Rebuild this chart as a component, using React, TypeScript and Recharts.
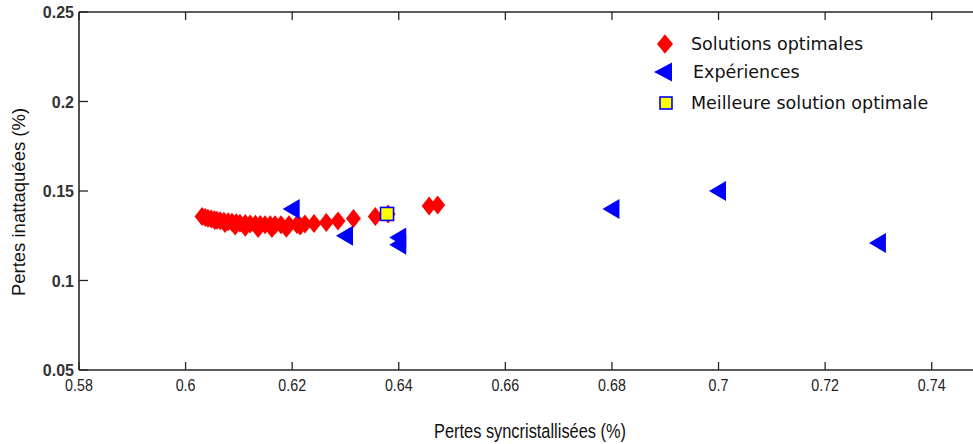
import React from 'react';
import { ScatterChart, Scatter, XAxis, YAxis, Legend } from 'recharts';

// Pareto front (optimal solutions)
const optimalX = [
  0.6031, 0.6037, 0.6042, 0.6048, 0.6054, 0.6059, 0.6065, 0.6072, 0.6080, 0.6087,
  0.6095, 0.6102, 0.6112, 0.6121, 0.6131, 0.6140, 0.6149, 0.6159, 0.6168, 0.6179,
  0.6194, 0.6209, 0.6224, 0.6241, 0.6264, 0.6286, 0.6315,
  0.6055, 0.6074, 0.6093, 0.6112, 0.6136, 0.6162, 0.6189, 0.6215,
  0.6356, 0.6380, 0.6457, 0.6473,
];
const optimalY = [
  0.1357, 0.1352, 0.1348, 0.1344, 0.1340, 0.1337, 0.1334, 0.1331, 0.1328, 0.1325,
  0.1322, 0.1320, 0.1318, 0.1316, 0.1314, 0.1313, 0.1312, 0.1311, 0.1311, 0.1311,
  0.1312, 0.1313, 0.1315, 0.1318, 0.1324, 0.1332, 0.1346,
  0.1335, 0.1318, 0.1305, 0.1297, 0.1291, 0.1290, 0.1292, 0.1305,
  0.1357, 0.1372, 0.1416, 0.1422,
];
// Experiments
const experienceX = [0.62, 0.63, 0.64, 0.64, 0.68, 0.70, 0.73];
const experienceY = [0.140, 0.125, 0.124, 0.120, 0.140, 0.150, 0.121];
// Best optimal solution
const bestX = [0.6378];
const bestY = [0.1372];

const xTicks = [0.58, 0.6, 0.62, 0.64, 0.66, 0.68, 0.7, 0.72, 0.74];
const xTickLabels = ['0.58', '0.6', '0.62', '0.64', '0.66', '0.68', '0.7', '0.72', '0.74'];
const yTicks = [0.05, 0.1, 0.15, 0.2, 0.25];
const yTickLabels = ['0.05', '0.1', '0.15', '0.2', '0.25'];
const seriesNames = ['Solutions optimales', 'Expériences', 'Meilleure solution optimale'];
const xTitle = 'Pertes syncristallisées (%)';
const yTitle = 'Pertes inattaquées (%)';

const optimalData = optimalX.map((x, i) => ({ x, y: optimalY[i] }));
const experienceData = experienceX.map((x, i) => ({ x, y: experienceY[i] }));
const bestData = bestX.map((x, i) => ({ x, y: bestY[i] }));

const RED = '#ff0000';
const BLUE = '#0000ff';
const YELLOW = '#ffff00';
const AXIS = '#262626';

const diamondPath = (cx: number, cy: number, hw: number, hh: number) =>
  `M${cx},${cy - hh} L${cx + hw},${cy} L${cx},${cy + hh} L${cx - hw},${cy} Z`;
const trianglePath = (cx: number, cy: number, l: number, r: number, hh: number) =>
  `M${cx - l},${cy} L${cx + r},${cy - hh} L${cx + r},${cy + hh} Z`;

const DiamondShape = (p: any) => <path d={diamondPath(p.cx, p.cy, 7.5, 9.5)} fill={RED} />;
const TriangleShape = (p: any) => <path d={trianglePath(p.cx, p.cy, 9.5, 7.5, 10)} fill={BLUE} />;
const SquareShape = (p: any) => (
  <rect x={p.cx - 6.5} y={p.cy - 6.5} width={13} height={13} fill={YELLOW} stroke={BLUE} strokeWidth={1.6} />
);

const XTick = (p: any) => {
  const idx = xTicks.indexOf(p.payload.value);
  return (
    <g>
      <line x1={p.x} y1={p.y} x2={p.x} y2={p.y - 8} stroke={AXIS} strokeWidth={1.3} />
      <text
        transform={`translate(${p.x},${p.y + 21}) scale(0.84,1)`}
        x={0}
        y={0}
        textAnchor="middle"
        fontFamily="'Liberation Sans', Arial, sans-serif"
        fontSize={17}
        fill="#222"
      >
        {idx >= 0 ? xTickLabels[idx] : ''}
      </text>
    </g>
  );
};

const TopTick = (p: any) => (
  <line x1={p.x} y1={p.y} x2={p.x} y2={p.y + 8} stroke={AXIS} strokeWidth={1.3} />
);

const YTick = (p: any) => {
  const idx = yTicks.indexOf(p.payload.value);
  return (
    <g>
      <line x1={p.x} y1={p.y} x2={p.x + 9} y2={p.y} stroke={AXIS} strokeWidth={1.3} />
      <text
        x={p.x - 5}
        y={p.y + 6}
        textAnchor="end"
        fontFamily="'Liberation Sans', Arial, sans-serif"
        fontSize={16}
        fontWeight="bold"
        fill="#333"
      >
        {idx >= 0 ? yTickLabels[idx] : ''}
      </text>
    </g>
  );
};

const LegendContent = () => {
  const rows = [
    { top: 14, symbol: <path d={diamondPath(15, 12, 8, 9.7)} fill={RED} />, textLeft: 41 },
    { top: 42, symbol: <path d={trianglePath(19, 12, 15, 3, 9.5)} fill={BLUE} />, textLeft: 43 },
    {
      top: 73,
      symbol: <rect x={10} y={6} width={12} height={12} fill={YELLOW} stroke={BLUE} strokeWidth={1.6} />,
      textLeft: 41,
    },
  ];
  return (
    <div style={{ position: 'relative', width: 300, height: 100 }}>
      {rows.map((r, i) => (
        <div key={i} style={{ position: 'absolute', left: 0, top: r.top, height: 24, width: 300 }}>
          <svg width={30} height={24} style={{ position: 'absolute', left: 0, top: 0 }}>
            {r.symbol}
          </svg>
          <span
            style={{
              position: 'absolute',
              left: r.textLeft,
              top: 0,
              lineHeight: '24px',
              fontFamily: "'DejaVu Sans', Verdana, sans-serif",
              fontSize: 17.5,
              color: '#111',
              whiteSpace: 'nowrap',
            }}
          >
            {seriesNames[i]}
          </span>
        </div>
      ))}
    </div>
  );
};

export default function App() {
  return (
    <div style={{ position: 'absolute', left: 0, top: 0, width: 973, height: 444, overflow: 'hidden', background: '#fff' }}>
      <ScatterChart width={1000} height={444} margin={{ top: 11, right: 15, left: 78, bottom: 73 }}>
        <XAxis
          xAxisId="b"
          type="number"
          dataKey="x"
          domain={[0.58, 0.75]}
          ticks={xTicks}
          allowDataOverflow
          height={1}
          tickSize={0}
          tickMargin={0}
          tickLine={false}
          axisLine={{ stroke: AXIS, strokeWidth: 1.6 }}
          tick={<XTick />}
          interval={0}
          label={{
            content: (props: any) => {
              const vb = props.viewBox || {};
              const cx = vb.x + vb.width / 2 - 2;
              const cy = vb.y + 68;
              return (
                <text
                  transform={`translate(${cx},${cy}) scale(0.84,1)`}
                  x={0}
                  y={0}
                  textAnchor="middle"
                  fontFamily="'Liberation Sans', Arial, sans-serif"
                  fontSize={19.5}
                  fill="#111"
                >
                  {xTitle}
                </text>
              );
            },
          }}
        />
        <XAxis
          xAxisId="t"
          orientation="top"
          type="number"
          dataKey="x"
          domain={[0.58, 0.75]}
          ticks={xTicks}
          allowDataOverflow
          height={1}
          tickSize={0}
          tickMargin={0}
          tickLine={false}
          axisLine={{ stroke: AXIS, strokeWidth: 1.6 }}
          tick={<TopTick />}
          interval={0}
        />
        <YAxis
          type="number"
          dataKey="y"
          domain={[0.05, 0.25]}
          ticks={yTicks}
          allowDataOverflow
          width={1}
          tickSize={0}
          tickMargin={0}
          tickLine={false}
          axisLine={{ stroke: AXIS, strokeWidth: 1.6 }}
          tick={<YTick />}
          interval={0}
          label={{
            content: (props: any) => {
              const vb = props.viewBox || {};
              const cx = vb.x + vb.width - 61;
              const cy = vb.y + vb.height / 2 + 11;
              return (
                <text
                  x={cx}
                  y={cy}
                  transform={`rotate(-90, ${cx}, ${cy})`}
                  textAnchor="middle"
                  dominantBaseline="central"
                  fontFamily="'Liberation Sans', Arial, sans-serif"
                  fontSize={18.5}
                  fill="#111"
                >
                  {yTitle}
                </text>
              );
            },
          }}
        />
        <Legend
          layout="vertical"
          align="center"
          verticalAlign="middle"
          content={<LegendContent />}
          wrapperStyle={{ left: 650, top: 18, width: 300, height: 100 }}
        />
        <Scatter xAxisId="b" name={seriesNames[0]} data={optimalData} shape={DiamondShape} isAnimationActive={false} legendType="none" />
        <Scatter xAxisId="b" name={seriesNames[1]} data={experienceData} shape={TriangleShape} isAnimationActive={false} legendType="none" />
        <Scatter xAxisId="b" name={seriesNames[2]} data={bestData} shape={SquareShape} isAnimationActive={false} legendType="none" />
      </ScatterChart>
    </div>
  );
}
